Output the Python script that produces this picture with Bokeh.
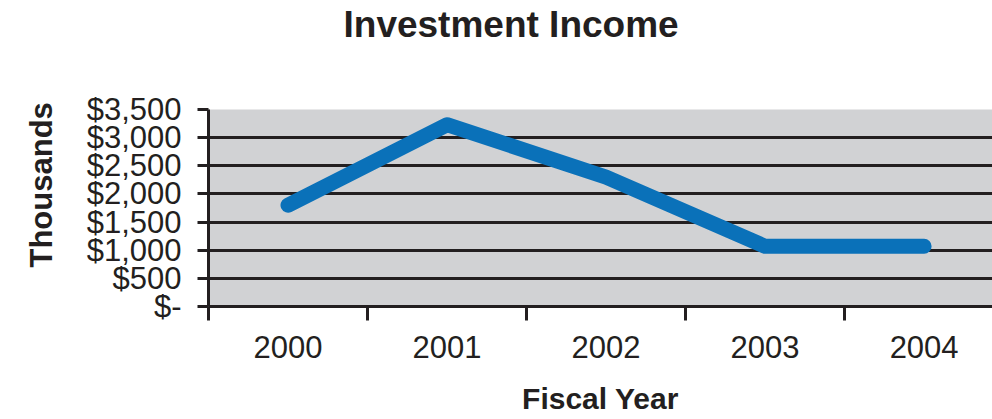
from bokeh.plotting import figure
from bokeh.models import Range1d, FixedTicker, NumeralTickFormatter, Title
from bokeh.embed import file_html
from bokeh.resources import INLINE

# ---- data ----
years = ["2000", "2001", "2002", "2003", "2004"]
income = [1800, 3230, 2300, 1070, 1070]          # thousands of dollars
y_ticks = [0, 500, 1000, 1500, 2000, 2500, 3000, 3500]
y_tick_labels = ["$-", "$500", "$1,000", "$1,500", "$2,000", "$2,500", "$3,000", "$3,500"]

x_pos = [i + 0.5 for i in range(len(years))]
boundaries = list(range(len(years) + 1))

FONT = "Liberation Sans"
DARK = "#231f20"

p = figure(width=992, height=419, output_backend="svg", toolbar_location=None,
           x_range=Range1d(0, 4.93), y_range=Range1d(0, 3500),
           min_border_left=208, min_border_right=0, min_border_top=109,
           min_border_bottom=113)

p.background_fill_color = "#d1d2d4"
p.border_fill_color = "white"
p.outline_line_color = None

# spacer between frame and title
p.add_layout(Title(text=" ", text_font_size="10px", standoff=47), "above")

# title
p.title.text = "Investment Income"
p.title.text_font = FONT
p.title.text_font_size = "37px"
p.title.text_font_style = "bold"
p.title.text_color = DARK
p.title.align = "left"
p.title.offset = 135
p.title.vertical_align = "top"
p.title.standoff = 6

# y-axis title as a side title (allows shifting along the axis)
ytitle = Title(text="Thousands", text_font=FONT, text_font_size="31px",
               text_font_style="bold", text_color=DARK, align="left",
               offset=39, vertical_align="top", standoff=45)
p.add_layout(ytitle, "left")

# grids
p.xgrid.visible = False
p.ygrid.ticker = FixedTicker(ticks=y_ticks)
p.ygrid.grid_line_color = DARK
p.ygrid.grid_line_width = 3

# y axis
ya = p.yaxis[0]
ya.ticker = FixedTicker(ticks=y_ticks)
ya.formatter = NumeralTickFormatter(format="$0,0")
ya.major_label_overrides = dict(zip(y_ticks, y_tick_labels))
ya.major_label_text_font = FONT
ya.major_label_text_font_size = "31px"
ya.major_label_text_color = DARK
ya.major_label_standoff = 16
ya.major_tick_in = 0
ya.major_tick_out = 11
ya.major_tick_line_width = 3
ya.major_tick_line_color = DARK
ya.minor_tick_line_color = None
ya.axis_line_color = DARK
ya.axis_line_width = 3

# x axis: labels at category centres, tick marks at category boundaries
xa = p.xaxis[0]
xa.ticker = FixedTicker(ticks=x_pos, minor_ticks=boundaries)
xa.major_label_overrides = dict(zip(x_pos, years))
xa.major_label_text_font = FONT
xa.major_label_text_font_size = "31px"
xa.major_label_text_color = DARK
xa.major_label_standoff = 15
xa.major_tick_line_color = None
xa.major_tick_out = 13
xa.major_tick_in = 0
xa.minor_tick_line_color = DARK
xa.minor_tick_line_width = 3
xa.minor_tick_in = 0
xa.minor_tick_out = 14
xa.axis_line_color = DARK
xa.axis_line_width = 3
xa.axis_label = "Fiscal Year"
xa.axis_label_text_font = FONT
xa.axis_label_text_font_size = "30px"
xa.axis_label_text_font_style = "bold"
xa.axis_label_text_color = DARK
xa.axis_label_standoff = 21

p.line(x_pos, income, line_width=15, line_color="#0a71b9",
       line_cap="round", line_join="round")

open("out.html", "w").write(file_html(p, INLINE))
